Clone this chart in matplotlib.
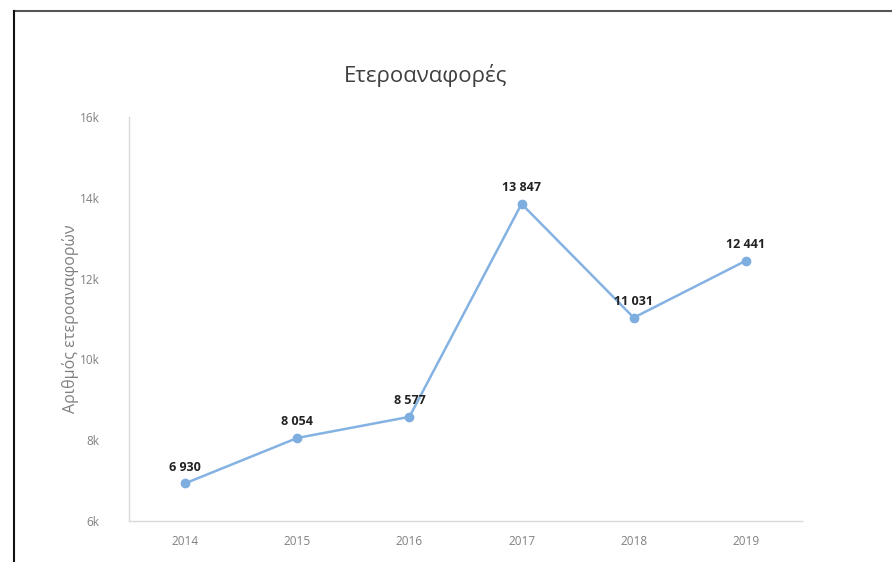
import matplotlib.pyplot as plt

plt.rcParams['font.family'] = ['Open Sans', 'DejaVu Sans']

years = ['2014', '2015', '2016', '2017', '2018', '2019']
counts = [6930, 8054, 8577, 13847, 11031, 12441]
y_ticks = [6000, 8000, 10000, 12000, 14000, 16000]
y_tick_labels = ['6k', '8k', '10k', '12k', '14k', '16k']

fig = plt.figure(figsize=(8.92, 5.62), dpi=100)
ax = fig.add_axes([0.1446, 0.073, 0.7545, 0.719])

x = list(range(len(years)))
ax.plot(x, counts, color='#84b2e2', lw=1.8, marker='o', markersize=6,
        markerfacecolor='#7eaee0', markeredgecolor='#7eaee0')

for xi, v in zip(x, counts):
    label = f'{v:,}'.replace(',', ' ')
    ax.annotate(label, (xi, v), xytext=(0, 7), textcoords='offset points',
                ha='center', va='bottom', fontsize=9, fontweight='bold',
                color='#222222')

ax.set_xlim(-0.5, len(years) - 0.5)
ax.set_ylim(6000, 16000)
ax.set_xticks(x)
ax.set_xticklabels(years)
ax.set_yticks(y_ticks)
ax.set_yticklabels(y_tick_labels)
ax.tick_params(length=0, colors='#808080', labelsize=8.5, pad=10)
ax.tick_params(axis='y', pad=21)

for side in ['top', 'right']:
    ax.spines[side].set_visible(False)
for side in ['left', 'bottom']:
    ax.spines[side].set_color('#d9d9d9')
    ax.spines[side].set_linewidth(1)

ax.set_ylabel('Αριθμός ετεροαναφορών', color='#808080', fontsize=11.5, labelpad=1)
fig.text(0.477, 0.866, 'Ετεροαναφορές', ha='center', va='center',
         fontsize=16, color='#404040')

# outer frame (top and left edges visible)
fig.add_artist(plt.Line2D([14 / 892, 1.0], [1 - 10.7 / 562] * 2,
                          transform=fig.transFigure, color='#555555', lw=1.5))
fig.add_artist(plt.Line2D([14 / 892] * 2, [0.0, 1 - 10.7 / 562],
                          transform=fig.transFigure, color='#111111', lw=1.5))

fig.savefig('out.png', dpi=100)
